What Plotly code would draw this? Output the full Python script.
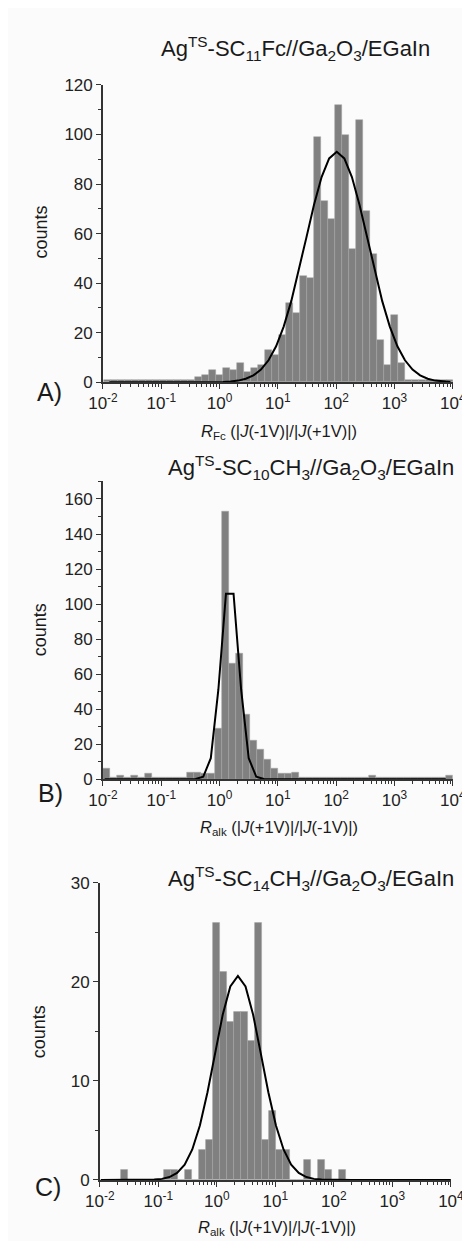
import numpy as np
import plotly.graph_objects as go

W, H = 470, 1241

# ---------------- data (log10 bins, counts) ----------------
# Panel A: R_Fc
a_bin_start = -1.981
a_bin_width = 0.12
a_counts = [1, 1, 1, 1, 1, 1, 1, 1, 1, 1, 1, 1, 1,
            2, 3, 5, 3, 6, 5, 8, 4, 6, 7, 13, 11, 19, 32, 28, 43, 42,
            99, 73, 66, 112, 100, 54, 106, 69, 52, 17, 7, 27, 8,
            1, 1, 1, 1, 1, 1, 1]
a_fit = dict(amp=93.0, mu=2.01, sigma=0.54, anchor=2.01, step=0.13)

# Panel B: R_alk (SC10CH3)
b_bin_start = -1.997
b_bin_width = 0.12
b_counts = [6, 1, 2, 1, 2, 1, 3, 1, 1, 1, 1, 1, 4, 4, 3, 3,
            29, 153, 66, 72, 37, 22, 17, 11, 6, 3, 3, 4,
            1, 1, 1, 1, 1, 1, 1, 1, 1, 1, 2, 1, 1, 1, 1, 1, 1, 1, 1, 1, 1, 2]
b_fit = dict(amp=116.0, mu=0.175, sigma=0.1525, anchor=0.11, step=0.13)

# Panel C: R_alk (SC14CH3)
c_bin_start = -1.994
c_bin_width = 0.12
c_counts = [0, 0, 0, 1, 0, 0, 0, 0, 0, 1, 1, 0, 1, 0, 3, 4,
            26, 21, 16, 17, 17, 14, 26, 4, 7, 3, 3, 0, 0, 2, 0, 2, 1, 0, 1,
            0, 0, 0, 0, 0, 0, 0, 0, 0, 0, 0, 0, 0, 0, 0]
c_fit = dict(amp=20.6, mu=0.36, sigma=0.40, anchor=0.36, step=0.13)

tick_pos = [-2, -1, 0, 1, 2, 3, 4]
tick_text = ["10<sup>-2</sup>", "10<sup>-1</sup>", "10<sup>0</sup>", "10<sup>1</sup>",
             "10<sup>2</sup>", "10<sup>3</sup>", "10<sup>4</sup>"]

titles = ["Ag<sup>TS</sup>-SC<sub>11</sub>Fc//Ga<sub>2</sub>O<sub>3</sub>/EGaIn",
          "Ag<sup>TS</sup>-SC<sub>10</sub>CH<sub>3</sub>//Ga<sub>2</sub>O<sub>3</sub>/EGaIn",
          "Ag<sup>TS</sup>-SC<sub>14</sub>CH<sub>3</sub>//Ga<sub>2</sub>O<sub>3</sub>/EGaIn"]
xtitles = ["<i>R</i><sub>Fc</sub> (|<i>J</i>(-1V)|/|<i>J</i>(+1V)|)",
           "<i>R</i><sub>alk</sub> (|<i>J</i>(+1V)|/|<i>J</i>(-1V)|)",
           "<i>R</i><sub>alk</sub> (|<i>J</i>(+1V)|/|<i>J</i>(-1V)|)"]
panel_labels = ["A)", "B)", "C)"]

# ---------------- layout geometry (pixels) ----------------
panels = [
    dict(x0=85, x1=457, ybot=371, ytop=69, yr=[0, 120], dt=20, title=(290, 32),
         xt=(272, 421), lab=(28, 381), cnt=(19, 218)),
    dict(x0=85, x1=457, ybot=774, ytop=471.7, yr=[0, 170], dt=20, title=(306, 458),
         xt=(272, 824), lab=(29, 788), cnt=(19, 622)),
    dict(x0=81.7, x1=455, ybot=1181, ytop=879.3, yr=[0, 30], dt=10, title=(306, 875),
         xt=(270, 1230), lab=(27, 1188), cnt=(17, 1030)),
]
data = [(a_bin_start, a_bin_width, a_counts, a_fit),
        (b_bin_start, b_bin_width, b_counts, b_fit),
        (c_bin_start, c_bin_width, c_counts, c_fit)]

minor_vals = [d + np.log10(m) for d in range(-2, 4) for m in range(2, 10)]

FONT = "Liberation Sans, Arial, sans-serif"
fig = go.Figure()
annotations = []
layout = {}


def ann(text, px, py, size, angle=0):
    annotations.append(dict(text=text, x=px / W, y=1 - py / H, xref="paper", yref="paper",
                            xanchor="center", yanchor="middle", showarrow=False,
                            textangle=angle, font=dict(family=FONT, size=size, color="#1a1a1a")))


for i, (p, (bs, bw, counts, fit)) in enumerate(zip(panels, data)):
    n = "" if i == 0 else str(i + 1)
    xa, ya = "x" + n, "y" + n
    centers = [bs + bw * (j + 0.5) for j in range(len(counts))]
    fig.add_trace(go.Bar(x=centers, y=counts, width=bw, xaxis=xa, yaxis=ya,
                         marker=dict(color="#808080", line=dict(color="#a4a4a4", width=0.5)),
                         showlegend=False))
    k0 = int(np.floor((-2 - fit["anchor"]) / fit["step"]))
    k1 = int(np.ceil((4 - fit["anchor"]) / fit["step"]))
    fx = fit["anchor"] + fit["step"] * np.arange(k0, k1 + 1)
    fx = fx[(fx >= -2) & (fx <= 4)]
    fy = fit["amp"] * np.exp(-(fx - fit["mu"]) ** 2 / (2 * fit["sigma"] ** 2))
    fig.add_trace(go.Scatter(x=fx, y=fy, mode="lines", xaxis=xa, yaxis=ya,
                             line=dict(color="black", width=2), showlegend=False))

    layout["xaxis" + n] = dict(
        domain=[p["x0"] / W, p["x1"] / W], anchor=ya, range=[-2, 4],
        tickmode="array", tickvals=tick_pos, ticktext=tick_text,
        ticks="outside", ticklen=5, tickwidth=1.2, tickcolor="#333",
        minor=dict(tickmode="array", tickvals=minor_vals, ticks="outside", ticklen=3,
                   tickwidth=1, tickcolor="#333"),
        showline=True, linecolor="#333", linewidth=1.5, showgrid=False, zeroline=False,
        tickfont=dict(family=FONT, size=17, color="#222"), fixedrange=True)
    layout["yaxis" + n] = dict(
        domain=[1 - p["ybot"] / H, 1 - p["ytop"] / H], anchor=xa, range=p["yr"],
        tickmode="linear", tick0=0, dtick=p["dt"],
        ticks="outside", ticklen=5, tickwidth=1.2, tickcolor="#333",
        minor=dict(tickmode="linear", tick0=0, dtick=p["dt"] / 2, ticks="outside",
                   ticklen=3, tickwidth=1, tickcolor="#333"),
        showline=True, linecolor="#333", linewidth=1.5, showgrid=False, zeroline=False,
        tickfont=dict(family=FONT, size=17, color="#222"), fixedrange=True)

    ann(titles[i], p["title"][0], p["title"][1], 22)
    ann(xtitles[i], p["xt"][0], p["xt"][1], 16.5)
    ann(panel_labels[i], p["lab"][0], p["lab"][1], 25)
    ann("counts", p["cnt"][0], p["cnt"][1], 18, angle=-90)

fig.update_layout(width=W, height=H, margin=dict(l=0, r=0, t=0, b=0), autosize=False,
                  paper_bgcolor="#fbfbfb", plot_bgcolor="#fbfbfb", bargap=0,
                  annotations=annotations, **layout)
fig.write_html("out.html")
